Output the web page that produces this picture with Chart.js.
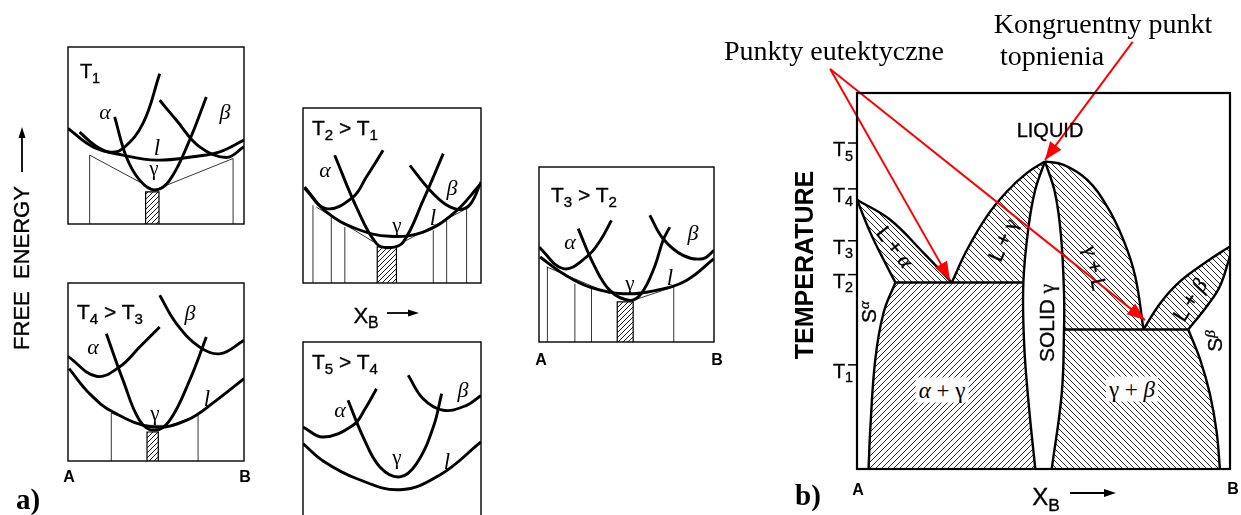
<!DOCTYPE html>
<html><head><meta charset="utf-8">
<script src="https://cdn.jsdelivr.net/npm/chart.js@4.4.1/dist/chart.umd.min.js"></script>
<style>
html,body{margin:0;padding:0;background:#fff;overflow:hidden;}
body{position:relative;width:1241px;height:515px;}
canvas{position:absolute;left:0;top:0;}
.lb{position:absolute;white-space:nowrap;line-height:1;color:#000;}
.sans{font-family:"Liberation Sans",Arial,sans-serif;}
.serif{font-family:"Liberation Serif","Times New Roman",serif;}
.it{font-style:italic;}
.bd{font-weight:bold;}
.wb{background:#fff;padding:1px 3px;}
.hv{-webkit-text-stroke:0.35px #000;}
sub{font-size:72%;vertical-align:baseline;position:relative;top:0.32em;}
sup{font-size:72%;vertical-align:baseline;position:relative;top:-0.45em;}
</style></head><body>
<script>
// ---------------- DATA (panel coordinates: x = composition 0..100 (A..B), y = 0..100) ----------------
// Panel T1
const p1Alpha  = [[6.6,51.9],[15.2,44.5],[23.7,40.6],[31.3,42.7],[42.6,56.8],[52.1,84.9]];
const p1Liquid = [[0,54],[14.2,43.6],[31.3,38.9],[50.2,36.1],[71,38],[86.2,40.8],[100,47.4]];
const p1Gamma  = [[26.5,60.5],[33.1,38],[40.7,24.8],[49.2,19.2],[57.8,24.8],[69.1,47.4],[78.6,71.8]];
const p1Beta   = [[52.1,69.9],[61.6,58.6],[74.8,43.6],[90,37.6],[100,43.6]];
const p1Tan    = [[12.3,38.9],[49.2,19.2],[93.8,37]];
const p1Ties   = [[12.3,38.9],[93.8,37]];
const p1Hatch  = [44.1,51.7,18.2];
// Panel T4 > T3
const p4Alpha  = [[0,58.8],[16.1,47.6],[29.2,52.8],[40.7,64],[52.1,75.3]];
const p4Liquid = [[0.6,51.9],[12.3,37.8],[25.6,27.5],[48.3,19.1],[67.2,22.8],[84.3,34.1],[100,46.3]];
const p4Gamma  = [[21.8,71.5],[31.3,45.3],[40.7,22.8],[49.2,17.2],[57.8,22.8],[69.1,45.3],[78.6,69.7]];
const p4Beta   = [[52.1,93.1],[61.6,77.2],[74.8,64],[86.7,60.3],[100,67.8]];
const p4Tan    = [[24.6,27],[42.6,20],[57.8,20],[73.9,25.7]];
const p4Ties   = [[24.6,27],[73.9,25.7]];
const p4Hatch  = [44.9,51.3,16.3];
// Panel T2 > T1
const p2Alpha  = [[0.9,54.1],[13.1,42.5],[28.1,49.1],[35.6,60.6],[45,75.8]];
const p2Liquid = [[0.9,54.9],[13.1,40.6],[30,31],[48.8,26.7],[67.5,29.1],[84.4,39.6],[100,56.8]];
const p2Gamma  = [[17.8,73],[30,43.4],[41.3,22.5],[48.8,20.2],[56.3,23.4],[67.5,47.2],[78.8,73.9]];
const p2Beta   = [[60,67.2],[71.3,53],[80,45],[88,42],[94,45],[100,57.7]];
const p2TanL   = [[7.5,43.4],[41.3,22.5]];
const p2TanR   = [[56.3,23.4],[90,41.5]];
const p2Ties   = [[5.6,44.4],[15.9,38.7],[23.5,32],[73.2,30.1],[80.7,35.8],[91.9,43.4]];
const p2Hatch  = [41.7,52.5,20.6];
// Panel T5 > T4
const p5Alpha  = [[0,51.4],[11.3,45.7],[28.1,52.4],[35,62],[41.3,73.3]];
const p5Liquid = [[0,41.9],[11.3,32],[30,22],[54.4,15.6],[76.9,24],[100,42.9]];
const p5Gamma  = [[25.3,66.7],[33.8,45.7],[43.2,28.6],[54.4,22.9],[63.8,30.5],[73.2,51.4],[77.9,70.5]];
const p5Beta   = [[59.1,81],[67.5,67.6],[78.8,61],[91.9,63.8],[100,69.5]];
// Panel T3 > T2
const p3Alpha  = [[0,54.3],[13.9,41.9],[27.2,48.6],[35,58],[41.4,69.5]];
const p3Liquid = [[0.6,48.6],[13.9,39],[29.1,31.4],[48.1,27.6],[67,29.5],[84.2,35.2],[100,47.6]];
const p3Gamma  = [[22.4,64.8],[31,44.8],[40.5,29.5],[51.9,23.8],[58.4,27.6],[66,42.9],[70.9,58.1],[74.7,65.7]];
const p3Beta   = [[63.3,72.4],[70.9,59],[82.3,49.5],[93.7,47.6],[100,52.4]];
const p3TanL   = [[4.4,42.9],[40.5,27.6]];
const p3TanR   = [[53.8,23.8],[76.6,31.4]];
const p3Ties   = [[4.8,42.9],[20.5,33.3],[30,30.5],[77,31.4]];
const p3Hatch  = [44.7,53.8,22.9];
// Panel b (phase diagram, y = temperature 0..100)
const bTickVals   = [27.7,51.7,60.7,74.5,86.7];
const bTickLabels = ['1','2','3','4','5'];
const bSolvusA = [[10.3,49.6],[7.1,41.5],[4.9,29.1],[3.6,11.3],[3.1,0]];
const bLiqA    = [[0,71.6],[8.9,66.3],[17.9,57.4],[25.4,49.6]];
const bSolA    = [[0,71.6],[3.6,62.8],[7.1,55.7],[10.3,49.6]];
const bEutL    = [[10.3,49.6],[44.6,49.6]];
const bLiqGL   = [[25.4,49.6],[29.5,58.3],[34.8,67.2],[40.2,73.8],[45.5,78.7],[50.4,81.8]];
const bLiqGR   = [[50.4,81.8],[55.4,80.9],[61.6,77],[67,69.9],[71.4,61],[74.6,51.2],[76.8,37.1]];
const bSolGL   = [[50.4,81.8],[47.8,74.3],[46,64.5],[44.6,49.6],[44.8,33.5],[46,17.6],[47.8,0]];
const bSolGR   = [[50.4,81.8],[53.1,73.4],[54.7,61.9],[55.5,46.8],[55.5,37.1],[54.9,20.2],[52.2,0]];
const bEutR    = [[55.5,37.1],[88.8,37.1]];
const bLiqB    = [[76.8,37.1],[81.3,44.1],[86.6,49.9],[93.8,55.2],[100,59.2]];
const bSolB    = [[88.8,37.1],[93.8,43.3],[97.3,48.6],[100,56.6]];
const bSolvusB = [[88.8,37.1],[92,29.1],[94.6,20],[96.4,10],[97.3,0]];
const bArrowEut1 = [[-7.2,106.4],[24.9,50.3]];
const bArrowEut2 = [[-7.2,106.4],[77.2,39.6]];
const bArrowCong = [[73.9,113.6],[50.4,82.2]];

// ---------------- rendering ----------------
const W = 1241, H = 530;
const P = pts => pts.map(([x,y]) => ({x, y}));
const rev = a => a.slice().reverse();

function mkPattern(ctx, dir, s, lw, col) {
  const t = document.createElement('canvas'); t.width = s; t.height = s;
  const g = t.getContext('2d'); g.strokeStyle = col; g.lineWidth = lw; g.beginPath();
  if (dir === '/') {
    g.moveTo(0,s); g.lineTo(s,0); g.moveTo(-s/2,s/2); g.lineTo(s/2,-s/2); g.moveTo(s/2,s*1.5); g.lineTo(s*1.5,s/2);
  } else {
    g.moveTo(0,0); g.lineTo(s,s); g.moveTo(-s/2,s/2); g.lineTo(s/2,s*1.5); g.moveTo(s/2,-s/2); g.lineTo(s*1.5,s/2);
  }
  g.stroke();
  return ctx.createPattern(t, 'repeat');
}
const curve = (pts, lw, col) => ({data: P(pts), showLine: true, borderColor: col || '#000', borderWidth: lw, tension: 0.4, pointRadius: 0, fill: false, order: 0});
const straight = (pts, lw, col, extra) => Object.assign({data: P(pts), showLine: true, borderColor: col || '#000', borderWidth: lw, tension: 0, pointRadius: 0, fill: false, order: 1}, extra || {});
const region = (pts, pat, lw) => ({data: P(pts), showLine: true, borderColor: '#000', borderWidth: lw, tension: 0, pointRadius: 0, fill: 'shape', backgroundColor: pat, order: 10});

const framePlugin = {
  id: 'frame',
  afterDatasetsDraw(chart, args, o) {
    const a = chart.chartArea, c = chart.ctx;
    c.save(); c.strokeStyle = '#000'; c.lineWidth = o.lw || 1.4;
    c.strokeRect(a.left, a.top, a.right - a.left, a.bottom - a.top);
    c.restore();
  }
};
const arrowPlugin = {
  id: 'arrowHeads',
  afterDatasetsDraw(chart) {
    const c = chart.ctx;
    chart.data.datasets.forEach((ds, i) => {
      if (!ds.arrowHead) return;
      const m = chart.getDatasetMeta(i).data;
      const p = m[m.length-2], q = m[m.length-1];
      const ang = Math.atan2(q.y - p.y, q.x - p.x), L = 18, w = 7;
      const cs = Math.cos(ang), sn = Math.sin(ang);
      c.save(); c.fillStyle = ds.borderColor; c.beginPath();
      c.moveTo(q.x, q.y);
      c.lineTo(q.x - L*cs + w*sn, q.y - L*sn - w*cs);
      c.lineTo(q.x - L*cs - w*sn, q.y - L*sn + w*cs);
      c.closePath(); c.fill(); c.restore();
    });
  }
};

function makePanel(box, buildDatasets, frameLw) {
  const cv = document.createElement('canvas'); cv.width = W; cv.height = H;
  document.body.appendChild(cv);
  const ctx = cv.getContext('2d');
  new Chart(ctx, {
    type: 'scatter',
    data: {datasets: buildDatasets(ctx)},
    options: {
      responsive: false, animation: false, devicePixelRatio: 1, events: [],
      layout: {padding: {left: box.x, top: box.y, right: W - box.x - box.w, bottom: H - box.y - box.h}},
      scales: {x: {type: 'linear', min: 0, max: 100, display: false}, y: {type: 'linear', min: 0, max: 100, display: false}},
      plugins: {legend: {display: false}, tooltip: {enabled: false}, frame: {lw: frameLw}},
      elements: {point: {radius: 0, hoverRadius: 0}, line: {capBezierPoints: false}}
    },
    plugins: [framePlugin, arrowPlugin]
  });
}

function freePanel(box, alpha, liquid, gamma, beta, tans, ties, hatch) {
  makePanel(box, ctx => {
    const ds = [curve(alpha, 2.9), curve(liquid, 2.9), curve(gamma, 2.9), curve(beta, 2.9)];
    (tans || []).forEach(t => ds.push(straight(t, 0.8)));
    (ties || []).forEach(([x, top]) => ds.push(straight([[x,0],[x,top]], 0.8)));
    if (hatch) {
      const pat = mkPattern(ctx, '/', 5, 0.9, '#000');
      ds.push(region([[hatch[0],0],[hatch[0],hatch[2]],[hatch[1],hatch[2]],[hatch[1],0]], pat, 1.2));
    }
    return ds;
  }, 1.4);
}

freePanel({x:68,y:47,w:176,h:177}, p1Alpha, p1Liquid, p1Gamma, p1Beta, [p1Tan], p1Ties, p1Hatch);
freePanel({x:68,y:283,w:176,h:178}, p4Alpha, p4Liquid, p4Gamma, p4Beta, [p4Tan], p4Ties, p4Hatch);
freePanel({x:303,y:108,w:178,h:175}, p2Alpha, p2Liquid, p2Gamma, p2Beta, [p2TanL, p2TanR], p2Ties, p2Hatch);
freePanel({x:303,y:342,w:178,h:175}, p5Alpha, p5Liquid, p5Gamma, p5Beta, [], [], null);
freePanel({x:539,y:167,w:175,h:175}, p3Alpha, p3Liquid, p3Gamma, p3Beta, [p3TanL, p3TanR], p3Ties, p3Hatch);

// phase diagram
const bBox = {x:857, y:93, w:373, h:376};
makePanel(bBox, ctx => {
  const pr = mkPattern(ctx, '\\', 6, 0.9, '#111');
  const pl = mkPattern(ctx, '/', 6, 0.9, '#111');
  const lw = 2.4, red = '#ff0000';
  const ds = [
    straight(bArrowEut1, 2, red, {clip: false, arrowHead: true, order: -1}),
    straight(bArrowEut2, 2, red, {clip: false, arrowHead: true, order: -1}),
    straight(bArrowCong, 2, red, {clip: false, arrowHead: true, order: -1}),
    curve(bSolvusA, lw), curve(bLiqA, lw), curve(bSolA, lw), straight(bEutL, lw),
    curve(bLiqGL, lw), curve(bLiqGR, lw), curve(bSolGL, lw), curve(bSolGR, lw),
    straight(bEutR, lw), curve(bLiqB, lw), curve(bSolB, lw), curve(bSolvusB, lw),
    region([...bLiqA, ...rev(bSolA)], pr, 0),
    region([...bSolGL.slice(3), ...rev(bSolvusA)], pl, 0),
    region([...bLiqGL, ...bSolGL.slice(1,4)], pr, 0),
    region([...bLiqGR, ...rev(bSolGR.slice(0,5))], pr, 0),
    region([...bSolGR.slice(4), ...rev(bSolvusB)], pr, 0),
    region([...bLiqB, ...rev(bSolB)], pr, 0)
  ];
  bTickVals.forEach(t => ds.push(straight([[-2.4,t],[0,t]], 1.5, '#000', {clip: false})));
  return ds;
}, 2.2);

// ---------------- text ----------------
function label(html, x, y, cls, size, rot, extra) {
  const d = document.createElement('div');
  d.className = 'lb ' + cls; d.innerHTML = html;
  d.style.left = x + 'px'; d.style.top = y + 'px'; d.style.fontSize = size + 'px';
  d.style.transform = 'translate(-50%,-50%) rotate(' + (rot || 0) + 'deg)';
  if (extra) Object.assign(d.style, extra);
  document.body.appendChild(d);
}
const A = 'serif it', G = 'serif';
// panel labels
label('T<sub>1</sub>', 90, 71, 'sans hv', 20);
label('&alpha;', 105, 112, A, 22); label('&beta;', 225, 112, A, 22); label('l', 157, 147, A, 23); label('&gamma;', 154, 168, G, 21);
label('T<sub>4</sub> &gt; T<sub>3</sub>', 110, 311, 'sans hv', 21);
label('&alpha;', 93, 347, A, 22); label('&beta;', 190, 313, A, 22); label('&gamma;', 155, 413, G, 21); label('l', 207, 398, A, 23);
label('A', 69, 477, 'sans bd', 16); label('B', 245, 477, 'sans bd', 16);
label('T<sub>2</sub> &gt; T<sub>1</sub>', 345, 127, 'sans hv', 21);
label('&alpha;', 325, 170, A, 22); label('&beta;', 452, 188, A, 22); label('&gamma;', 397, 225, G, 21); label('l', 433, 217, A, 23);
label('T<sub>5</sub> &gt; T<sub>4</sub>', 345, 361, 'sans hv', 21);
label('&alpha;', 340, 410, A, 22); label('&beta;', 463, 390, A, 22); label('&gamma;', 397, 457, G, 21); label('l', 447, 461, A, 23);
label('T<sub>3</sub> &gt; T<sub>2</sub>', 584, 194, 'sans hv', 21);
label('&alpha;', 570, 242, A, 22); label('&beta;', 693, 233, A, 22); label('&gamma;', 630, 283, G, 21); label('l', 670, 277, A, 23);
label('A', 541, 360, 'sans bd', 16); label('B', 717, 360, 'sans bd', 16);
label('FREE&nbsp;&nbsp;ENERGY', 22, 268, 'sans hv', 22, -90);
label('X<sub>B</sub>', 366, 316, 'sans hv', 22);
label('a)', 28, 499, 'serif bd', 29);
// phase diagram labels
label('b)', 808, 495, 'serif bd', 29);
label('A', 858, 490, 'sans bd', 16); label('B', 1233, 489, 'sans bd', 16);
label('X<sub>B</sub>', 1046, 497, 'sans hv', 24);
label('TEMPERATURE', 804, 265, 'sans bd', 25, -90);
bTickVals.forEach((t, i) => label('T<sub>' + bTickLabels[i] + '</sub>', 843, 469 - t*3.76 + 6, 'sans hv', 20));
label('LIQUID', 1050, 130, 'sans hv', 20);
label('SOLID&nbsp;<span class="serif">&gamma;</span>', 1047, 323, 'sans hv', 21, -90);
label('L + <i class="serif">&alpha;</i>', 895, 247, 'sans hv', 21, 52);
label('L + <span class="serif">&gamma;</span>', 1003, 240, 'sans hv', 21, -66);
label('<span class="serif">&gamma;</span> + L', 1095, 268, 'sans hv', 21, 78);
label('L + <i class="serif">&beta;</i>', 1190, 300, 'sans hv', 21, -58);
label('S<sup class="serif it">&alpha;</sup>', 869, 312, 'sans hv', 21, -90);
label('S<sup class="serif it">&beta;</sup>', 1215, 341, 'sans hv', 21, -90);
label('<i>&alpha;</i> + &gamma;', 942, 390, 'serif wb', 23);
label('&gamma; + <i>&beta;</i>', 1132, 389, 'serif wb', 23);
label('Punkty eutektyczne', 834, 51, 'serif', 28);
label('Kongruentny punkt', 1103, 24, 'serif', 28);
label('topnienia', 1052, 56, 'serif', 28);

// small decorative axis arrows
const svgNS = 'http://www.w3.org/2000/svg';
const svg = document.createElementNS(svgNS, 'svg');
svg.setAttribute('width', 1241); svg.setAttribute('height', 515);
svg.style.position = 'absolute'; svg.style.left = '0'; svg.style.top = '0';
svg.innerHTML =
  '<line x1="22" y1="172" x2="22" y2="134" stroke="#000" stroke-width="1.8"/><polygon points="22,127 18.5,138 25.5,138" fill="#000"/>' +
  '<line x1="387" y1="313" x2="412" y2="313" stroke="#000" stroke-width="1.8"/><polygon points="419,313 408,309.5 408,316.5" fill="#000"/>' +
  '<line x1="1070" y1="493" x2="1108" y2="493" stroke="#000" stroke-width="2"/><polygon points="1116,493 1104,489 1104,497" fill="#000"/>';
document.body.appendChild(svg);
</script>
</body></html>
